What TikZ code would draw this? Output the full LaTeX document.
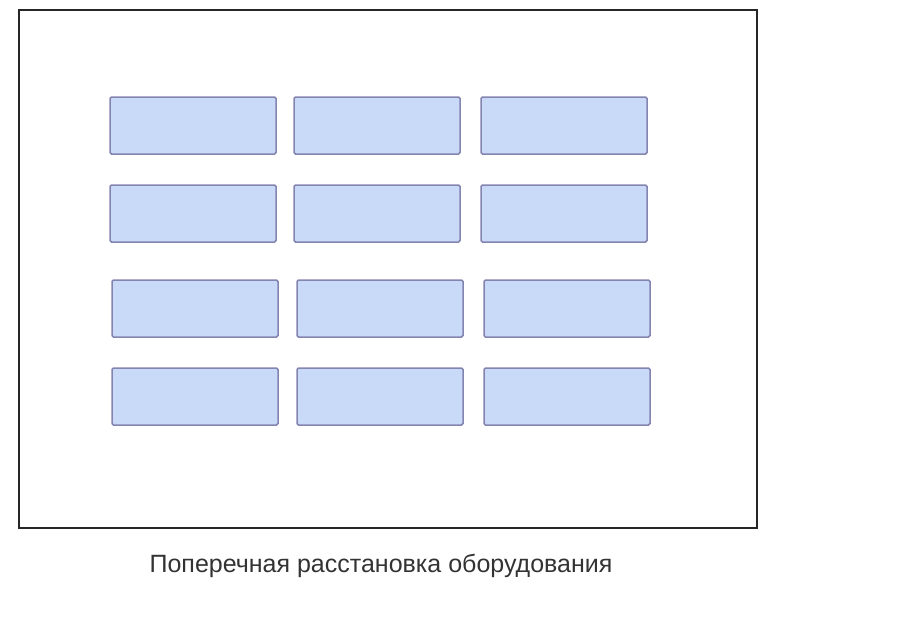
\documentclass[tikz,border=0pt]{standalone}
\usepackage{fontspec}
\setmainfont{Liberation Sans}
\begin{document}
\begin{tikzpicture}[x=1pt,y=-1pt,
  box/.style={draw=boxline,fill=boxfill,line width=1.5pt,rounded corners=1.5pt},
  frame/.style={draw=black!85,line width=1.6pt}]
\definecolor{boxfill}{HTML}{C9DAF8}
\definecolor{boxline}{HTML}{8484B0}
\useasboundingbox (0,0) rectangle (900,640);
\draw[frame] (19,10) rectangle (757,528);
% rows 1-2
\foreach \y [count=\r] in {97,185}{
  \foreach \x [count=\c] in {110,294,481}{
    \draw[box] (\x,\y) rectangle ++(166,57);
  }
}
% rows 3-4
\foreach \y [count=\r] in {280,368}{
  \foreach \x [count=\c] in {112,297,484}{
    \draw[box] (\x,\y) rectangle ++(166,57);
  }
}
\node[text=black!80,font=\fontsize{25}{30}\selectfont] (cap) at (381,566) {Поперечная расстановка оборудования};
\end{tikzpicture}
\end{document}
